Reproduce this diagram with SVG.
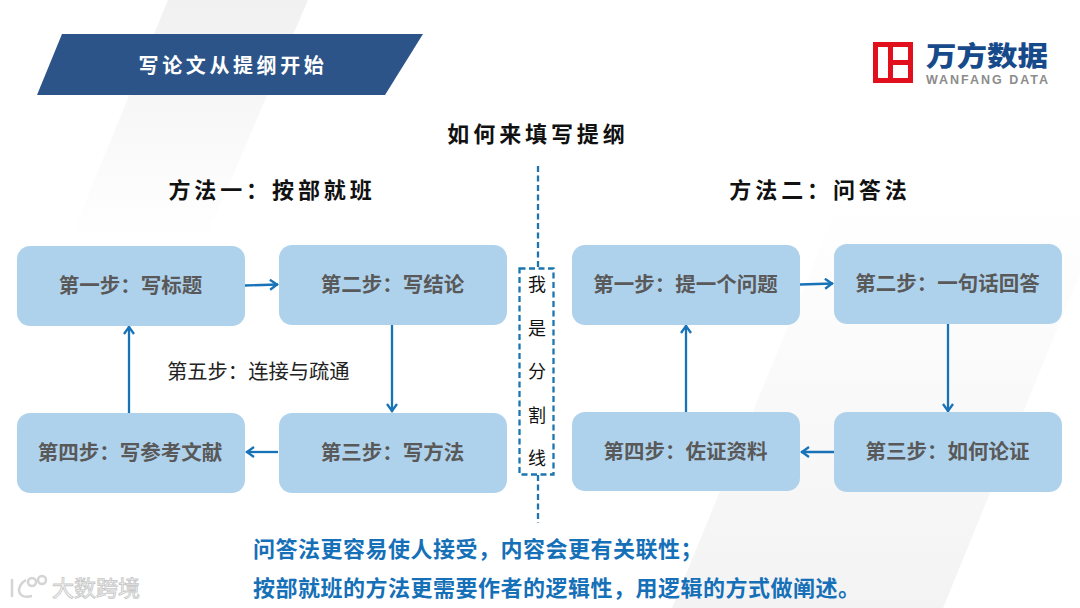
<svg xmlns="http://www.w3.org/2000/svg" width="1080" height="608" viewBox="0 0 1080 608">
<defs>
<linearGradient id="sw" x1="0" y1="0" x2="0" y2="1"><stop offset="0" stop-color="#f1f1f2"/><stop offset="1" stop-color="#fff"/></linearGradient>
<linearGradient id="sw2" x1="0" y1="0" x2="0" y2="1"><stop offset="0" stop-color="#fff"/><stop offset="1" stop-color="#f3f3f4"/></linearGradient>
<marker id="a" viewBox="0 0 12 12" refX="10.500" refY="6" markerWidth="12" markerHeight="12" markerUnits="userSpaceOnUse" orient="auto"><path d="M2.500,1 L9.500,6 L2.500,11" fill="none" stroke="#1872b8" stroke-width="2.300"/></marker>
</defs>
<style>
text{font-family:"Noto Sans CJK SC","Liberation Sans",sans-serif}
.b{fill:#afd2ec}
.t{font-size:20.500px;font-weight:700;fill:#595959;text-anchor:middle}
.h{font-size:22px;font-weight:700;fill:#111;text-anchor:middle;letter-spacing:3.900px}
.c{fill:none;stroke:#1872b8;stroke-width:2.300;marker-end:url(#a)}
.d{fill:none;stroke:#1b75b0;stroke-width:2.300;stroke-dasharray:6 3.500}
.v{font-size:18px;fill:#111;text-anchor:middle}
.n{font-size:22px;font-weight:700;fill:#1570b8;letter-spacing:.5px}
</style>
<rect width="1080" height="608" fill="#fff"/>
<path d="M168,0H308L205,240H70z" fill="url(#sw)"/>
<path d="M840,200H1110L943,608H672z" fill="url(#sw2)"/>
<g id="title-banner"><path d="M62,34H423L385,95H37z" fill="#2c5489"/><text x="233" y="73" font-size="20" font-weight="700" fill="#fff" text-anchor="middle" letter-spacing="3.600">写论文从提纲开始</text></g>
<g id="logo"><rect x="875.500" y="44.500" width="35" height="36" fill="none" stroke="#e1101c" stroke-width="5"/><path d="M890.500,44V81M890,62.500H912" fill="none" stroke="#e1101c" stroke-width="5"/><text x="926" y="66" font-size="27" font-weight="900" fill="#174a8b" textLength="122" lengthAdjust="spacingAndGlyphs">万方数据</text><text x="926" y="83.500" font-size="12.500" font-weight="700" fill="#8c8c8c" textLength="122" style="font-family:'Liberation Sans',sans-serif">WANFANG DATA</text></g>
<text class="h" x="538" y="142">如何来填写提纲</text>
<text class="h" x="272" y="198">方法一：按部就班</text>
<text class="h" x="820" y="198">方法二：问答法</text>
<g id="connectors">
<path class="c" d="M245,285.500L278,284.500"/><path class="c" d="M392,325V412"/><path class="c" d="M278,452H246"/><path class="c" d="M129,413V326"/>
<path class="c" d="M800,284.500L833,283.500"/><path class="c" d="M948,324V412"/><path class="c" d="M834,452H801"/><path class="c" d="M686,412V325"/>
<path class="d" d="M538,166V268M538,475V523"/>
</g>
<g id="l1"><rect class="b" x="17" y="246" width="228" height="80" rx="13"/><text class="t" x="130.500" y="292.500">第一步：写标题</text></g>
<g id="l2"><rect class="b" x="279" y="245" width="228" height="80" rx="13"/><text class="t" x="392.500" y="291.500">第二步：写结论</text></g>
<g id="l3"><rect class="b" x="279" y="413" width="228" height="80" rx="13"/><text class="t" x="392.500" y="459.500">第三步：写方法</text></g>
<g id="l4"><rect class="b" x="17" y="413" width="228" height="80" rx="13"/><text class="t" x="130" y="459.500">第四步：写参考文献</text></g>
<text x="167" y="379" font-size="20.300" fill="#222">第五步：连接与疏通</text>
<g id="divider"><rect class="d" x="519.500" y="268.500" width="34" height="206" style="fill:#fff"/><text class="v" x="537" y="291">我</text><text class="v" x="537" y="335">是</text><text class="v" x="537" y="378">分</text><text class="v" x="537" y="422">割</text><text class="v" x="537" y="465">线</text></g>
<g id="r1"><rect class="b" x="572" y="245" width="228" height="80" rx="13"/><text class="t" x="685.500" y="291.500">第一步：提一个问题</text></g>
<g id="r2"><rect class="b" x="834" y="244" width="228" height="80" rx="13"/><text class="t" x="947.500" y="290.500">第二步：一句话回答</text></g>
<g id="r3"><rect class="b" x="834" y="412" width="228" height="80" rx="13"/><text class="t" x="947.500" y="458.500">第三步：如何论证</text></g>
<g id="r4"><rect class="b" x="572" y="412" width="228" height="79" rx="13"/><text class="t" x="685.500" y="458.500">第四步：佐证资料</text></g>
<text class="n" x="253" y="557">问答法更容易使人接受，内容会更有关联性；</text>
<text class="n" x="253" y="596">按部就班的方法更需要作者的逻辑性，用逻辑的方式做阐述。</text>
<g id="watermark" fill="none" stroke="#d4d4d4" stroke-width="2.500"><path d="M12,579V597M26,580C15,586 17,600 32,596"/><circle cx="32" cy="582" r="4"/><circle cx="42" cy="580" r="4"/><text x="52" y="596" font-size="22" fill="#fff" stroke="#c8c8c8" stroke-width=".9">大数跨境</text></g>
</svg>
